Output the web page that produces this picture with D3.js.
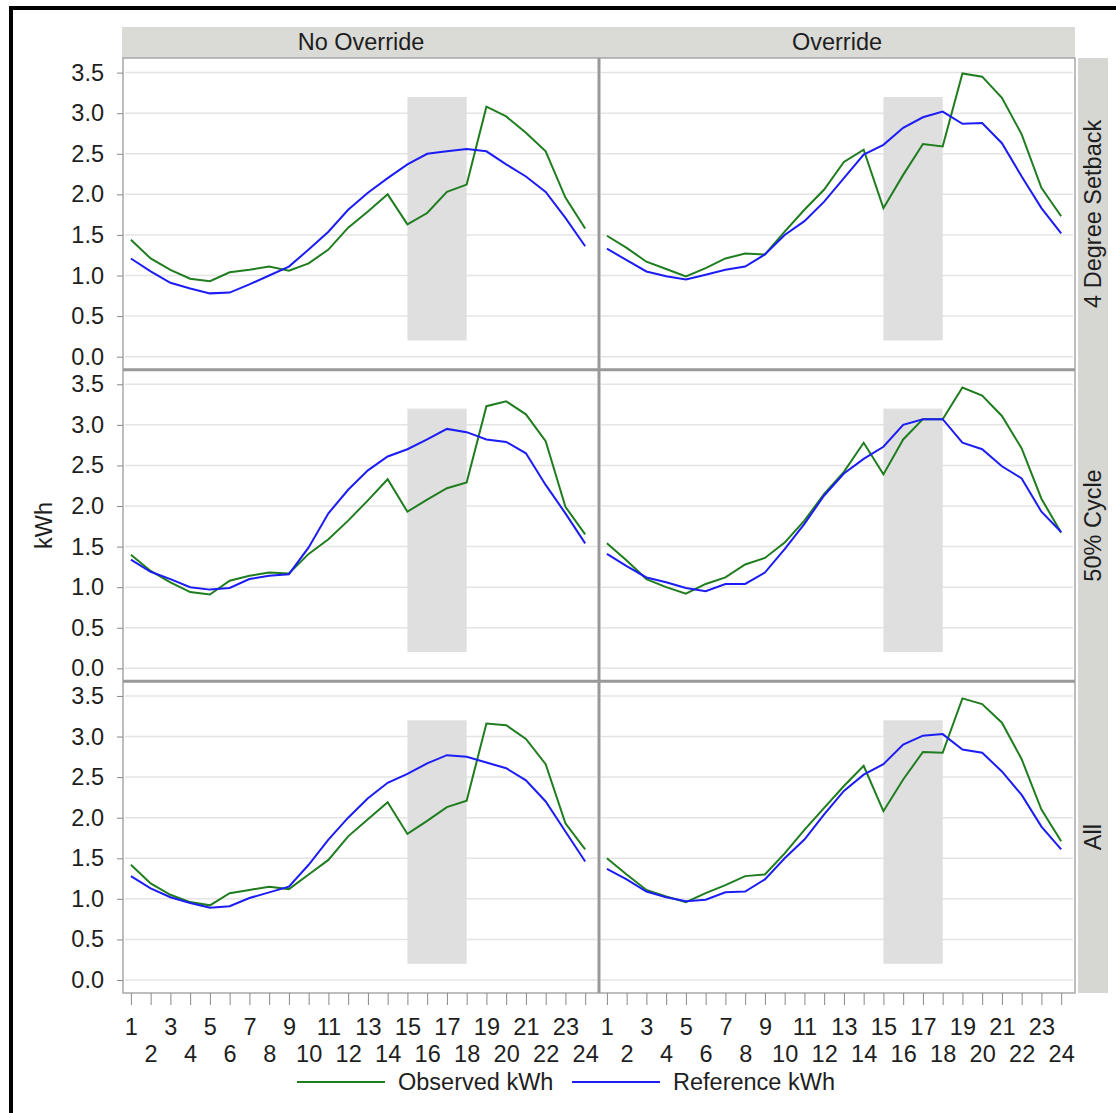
<!DOCTYPE html>
<html>
<head>
<meta charset="utf-8">
<script src="https://cdn.jsdelivr.net/npm/d3@7"></script>
<style>
  body { margin: 0; background: #fff; }
  svg { display: block; }
  text { font-family: "Liberation Sans", Arial, sans-serif; fill: #1e1e1e; }
</style>
</head>
<body>
<svg id="chart" width="1116" height="1113"></svg>
<script>
// hours of the day
const hours = [1,2,3,4,5,6,7,8,9,10,11,12,13,14,15,16,17,18,19,20,21,22,23,24];
const yTicks = [0, 0.5, 1, 1.5, 2, 2.5, 3, 3.5];
const colLabels = ['No Override', 'Override'];
const rowLabels = ['4 Degree Setback', '50% Cycle', 'All'];
const peakHours = [15, 18];     // shaded event window
const peakRange = [0.2, 3.2];

// 4 Degree Setback
const obsSetbackNo  = [1.44,1.21,1.07,0.96,0.93,1.04,1.07,1.11,1.06,1.15,1.32,1.59,1.79,2.00,1.63,1.77,2.03,2.12,3.08,2.96,2.76,2.53,1.96,1.58];
const refSetbackNo  = [1.21,1.05,0.91,0.84,0.78,0.79,0.89,1.00,1.11,1.32,1.54,1.81,2.02,2.20,2.37,2.50,2.53,2.56,2.53,2.37,2.22,2.03,1.71,1.36];
const obsSetbackYes = [1.49,1.34,1.17,1.08,0.99,1.09,1.21,1.27,1.26,1.54,1.81,2.06,2.40,2.55,1.83,2.24,2.62,2.59,3.49,3.45,3.19,2.74,2.08,1.73];
const refSetbackYes = [1.33,1.19,1.05,0.99,0.95,1.01,1.07,1.11,1.26,1.50,1.67,1.91,2.20,2.49,2.61,2.82,2.95,3.02,2.87,2.88,2.63,2.22,1.83,1.52];
// 50% Cycle
const obsCycleNo  = [1.40,1.20,1.06,0.94,0.91,1.08,1.14,1.18,1.17,1.41,1.59,1.82,2.07,2.33,1.93,2.08,2.22,2.29,3.23,3.29,3.13,2.80,1.99,1.65];
const refCycleNo  = [1.34,1.19,1.10,1.00,0.97,0.99,1.10,1.14,1.16,1.49,1.91,2.20,2.44,2.61,2.70,2.82,2.95,2.91,2.82,2.79,2.65,2.26,1.91,1.54];
const obsCycleYes = [1.54,1.33,1.10,1.00,0.92,1.04,1.12,1.28,1.36,1.55,1.82,2.15,2.42,2.78,2.39,2.82,3.07,3.07,3.46,3.36,3.11,2.71,2.09,1.67];
const refCycleYes = [1.41,1.26,1.12,1.06,0.99,0.95,1.04,1.04,1.18,1.47,1.78,2.13,2.40,2.58,2.73,3.00,3.07,3.07,2.78,2.70,2.49,2.34,1.93,1.68];
// All
const obsAllNo  = [1.42,1.19,1.05,0.96,0.92,1.07,1.11,1.15,1.12,1.30,1.48,1.77,1.98,2.19,1.80,1.96,2.13,2.21,3.16,3.14,2.97,2.66,1.93,1.61];
const refAllNo  = [1.28,1.13,1.02,0.95,0.89,0.91,1.01,1.08,1.15,1.42,1.73,2.00,2.24,2.43,2.54,2.67,2.77,2.75,2.68,2.61,2.46,2.20,1.83,1.46];
const obsAllYes = [1.50,1.30,1.11,1.03,0.96,1.07,1.17,1.28,1.30,1.56,1.85,2.12,2.39,2.64,2.08,2.47,2.81,2.80,3.47,3.40,3.17,2.72,2.10,1.71];
const refAllYes = [1.37,1.24,1.09,1.02,0.97,0.99,1.08,1.09,1.24,1.50,1.73,2.04,2.33,2.53,2.66,2.90,3.01,3.03,2.84,2.80,2.57,2.28,1.89,1.61];

const panels = [
  [[obsSetbackNo, refSetbackNo], [obsSetbackYes, refSetbackYes]],
  [[obsCycleNo, refCycleNo], [obsCycleYes, refCycleYes]],
  [[obsAllNo, refAllNo], [obsAllYes, refAllYes]]
];

const green = '#1f7d1f', blue = '#1c1cf5';
const fontSize = '23.5px';
const plotL = 123, plotR = 1075, plotT = 58, plotB = 993;
const colW = (plotR - plotL) / 2, rowH = (plotB - plotT) / 3;

const svg = d3.select('#chart');

const x = d3.scaleLinear().domain([0.6, 24.7]).range([0, colW]);
const y = d3.scaleLinear().domain([-0.16, 3.68]).range([rowH, 0]);

const line = d3.line()
  .x((d, i) => x(hours[i]))
  .y(d => y(d));

// outer black frame (only top and left edges fall inside the picture)
svg.append('path')
  .attr('d', 'M11,1116 V8 H1118')
  .attr('fill', 'none')
  .attr('stroke', '#000')
  .attr('stroke-width', 4);

// strips
svg.append('rect')
  .attr('x', plotL - 1).attr('y', 27)
  .attr('width', plotR - plotL + 1).attr('height', plotT - 27)
  .attr('fill', '#dadad6');
svg.append('rect')
  .attr('x', plotR + 3).attr('y', plotT)
  .attr('width', 30).attr('height', plotB - plotT)
  .attr('fill', '#d6d6d2');

colLabels.forEach((c, i) => {
  svg.append('text')
    .attr('x', plotL + colW * i + colW / 2)
    .attr('y', 50)
    .attr('text-anchor', 'middle')
    .style('font-size', fontSize)
    .text(c);
});
rowLabels.forEach((r, i) => {
  svg.append('text')
    .attr('transform', `translate(${plotR + 26},${plotT + rowH * i + rowH / 2}) rotate(-90)`)
    .attr('text-anchor', 'middle')
    .style('font-size', fontSize)
    .text(r);
});

// panels
panels.forEach((row, r) => {
  row.forEach((pair, c) => {
    const g = svg.append('g')
      .attr('transform', `translate(${plotL + c * colW},${plotT + r * rowH})`);

    g.selectAll('.grid')
      .data(yTicks)
      .enter()
      .append('line')
      .attr('x1', 2).attr('x2', colW - 2)
      .attr('y1', d => y(d)).attr('y2', d => y(d))
      .attr('stroke', '#e4e4e4')
      .attr('stroke-width', 1.5);

    g.append('rect')
      .attr('x', x(peakHours[0]))
      .attr('y', y(peakRange[1]))
      .attr('width', x(peakHours[1]) - x(peakHours[0]))
      .attr('height', y(peakRange[0]) - y(peakRange[1]))
      .attr('fill', '#dfdfdf');

    g.append('path')
      .datum(pair[0])
      .attr('fill', 'none')
      .attr('stroke', green)
      .attr('stroke-width', 2)
      .attr('d', line);

    g.append('path')
      .datum(pair[1])
      .attr('fill', 'none')
      .attr('stroke', blue)
      .attr('stroke-width', 2)
      .attr('d', line);
  });
});

// panel frame and dividers
svg.append('rect')
  .attr('x', plotL).attr('y', plotT)
  .attr('width', plotR - plotL).attr('height', plotB - plotT)
  .attr('fill', 'none')
  .attr('stroke', '#a8a8a8')
  .attr('stroke-width', 1.5);
svg.append('line')
  .attr('x1', plotL + colW).attr('x2', plotL + colW)
  .attr('y1', plotT).attr('y2', plotB)
  .attr('stroke', '#999').attr('stroke-width', 3);
[1, 2].forEach(i => {
  svg.append('line')
    .attr('x1', plotL).attr('x2', plotR)
    .attr('y1', plotT + rowH * i).attr('y2', plotT + rowH * i)
    .attr('stroke', '#999').attr('stroke-width', 3);
});

// y axes
rowLabels.forEach((r, i) => {
  const ax = svg.append('g')
    .attr('transform', `translate(${plotL},${plotT + rowH * i})`)
    .call(d3.axisLeft(y).tickValues(yTicks).tickFormat(d3.format('.1f')).tickSize(6).tickPadding(13));
  ax.select('.domain').remove();
  ax.selectAll('line').attr('stroke', '#888');
  ax.selectAll('text').style('font-size', fontSize).attr('fill', '#1e1e1e').style('font-family', '"Liberation Sans", Arial, sans-serif');
});

// x axes
colLabels.forEach((c, i) => {
  const ax = svg.append('g')
    .attr('transform', `translate(${plotL + colW * i},${plotB})`)
    .call(d3.axisBottom(x).tickValues(hours).tickSize(12));
  ax.select('.domain').remove();
  ax.selectAll('line').attr('stroke', '#888');
  ax.selectAll('text')
    .style('font-size', fontSize)
    .attr('fill', '#1e1e1e')
    .style('font-family', '"Liberation Sans", Arial, sans-serif')
    .attr('dy', null)
    .attr('y', d => d % 2 ? 42 : 69);
});

// y title
svg.append('text')
  .attr('transform', `translate(52,${(plotT + plotB) / 2}) rotate(-90)`)
  .attr('text-anchor', 'middle')
  .style('font-size', fontSize)
  .text('kWh');

// legend
const legend = [['Observed kWh', green, 297], ['Reference kWh', blue, 572]];
legend.forEach(([label, color, lx]) => {
  svg.append('line')
    .attr('x1', lx).attr('x2', lx + 88)
    .attr('y1', 1082).attr('y2', 1082)
    .attr('stroke', color).attr('stroke-width', 2);
  svg.append('text')
    .attr('x', lx + 101).attr('y', 1090)
    .style('font-size', fontSize)
    .text(label);
});
</script>
</body>
</html>
